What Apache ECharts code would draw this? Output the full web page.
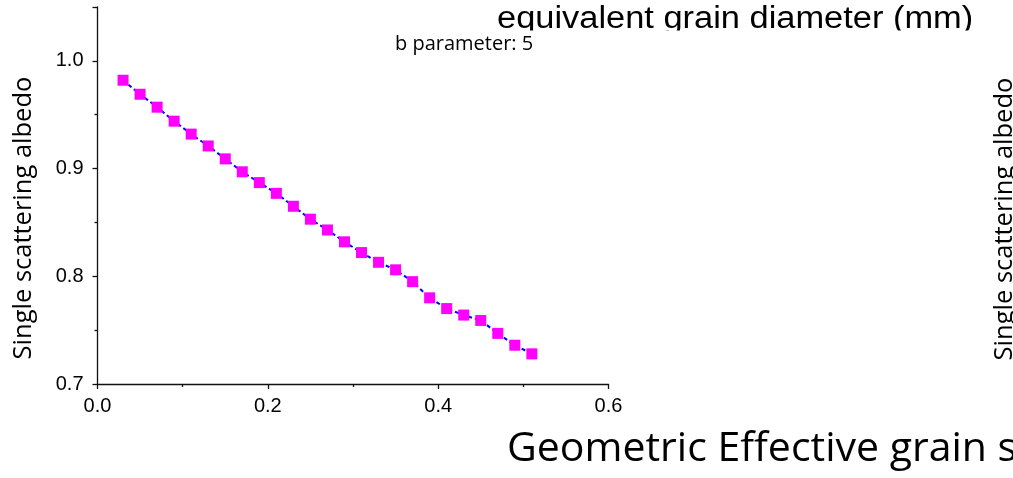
<!DOCTYPE html>
<html>
<head>
<meta charset="utf-8">
<title>Single scattering albedo</title>
<script src="https://cdn.jsdelivr.net/npm/echarts@6/dist/echarts.min.js"></script>
<style>
  html, body { margin: 0; padding: 0; background: #fff; }
  #chart { width: 1013px; height: 478px; }
</style>
</head>
<body>
<div id="chart"></div>
<script>
// grain diameter (mm) and albedo
var grainSize = [0.03, 0.05, 0.07, 0.09, 0.11, 0.13, 0.15, 0.17, 0.19, 0.21,
  0.23, 0.25, 0.27, 0.29, 0.31, 0.33, 0.35, 0.37, 0.39, 0.41,
  0.43, 0.45, 0.47, 0.49, 0.51];
var albedo = [0.982, 0.969, 0.957, 0.944, 0.932, 0.921, 0.909, 0.897, 0.887, 0.877,
  0.865, 0.853, 0.843, 0.832, 0.822, 0.813, 0.806, 0.795, 0.780, 0.770,
  0.764, 0.759, 0.747, 0.736, 0.728];
var xTicks = [0.0, 0.2, 0.4, 0.6];
var yTicks = [0.7, 0.8, 0.9, 1.0];

var titleText = 'equivalent grain diameter (mm)';
var paramText = 'b parameter: 5';
var yName = 'Single scattering albedo';
var bottomText = 'Geometric Effective grain size';

var chart = echarts.init(document.getElementById('chart'));

var points = grainSize.map(function (x, i) { return [x, albedo[i]]; });

var axisText = { color: '#000', fontFamily: 'Liberation Sans', fontSize: 20 };

chart.setOption({
  animation: false,
  backgroundColor: '#fff',
  grid: {
    left: 97.5,
    right: 404.5,
    top: 7,
    bottom: 94,
    outerBoundsMode: 'none'
  },
  xAxis: {
    type: 'value',
    min: 0,
    max: 0.6,
    interval: 0.2,
    axisLine: { lineStyle: { color: '#111', width: 1.3 } },
    axisTick: { length: 5, lineStyle: { color: '#111', width: 1.3 } },
    minorTick: { show: true, splitNumber: 2, length: 3, lineStyle: { color: '#111', width: 1.3 } },
    splitLine: { show: false },
    axisLabel: Object.assign({
      margin: 12,
      formatter: function (v) {
        var hit = xTicks.find(function (t) { return Math.abs(t - v) < 1e-9; });
        return hit === undefined ? '' : hit.toFixed(1);
      }
    }, axisText)
  },
  yAxis: {
    type: 'value',
    min: 0.7,
    max: 1.05,
    interval: 0.1,
    axisLine: { show: true, lineStyle: { color: '#111', width: 1.3 } },
    axisTick: { show: true, length: 5, lineStyle: { color: '#111', width: 1.3 } },
    minorTick: { show: true, splitNumber: 2, length: 3, lineStyle: { color: '#111', width: 1.3 } },
    splitLine: { show: false },
    axisLabel: Object.assign({
      margin: 14,
      formatter: function (v) {
        var hit = yTicks.find(function (t) { return Math.abs(t - v) < 1e-9; });
        return hit === undefined ? '' : hit.toFixed(1);
      }
    }, axisText)
  },
  series: [{
    type: 'line',
    data: points,
    symbol: 'rect',
    symbolSize: 11,
    itemStyle: { color: '#ff00ff' },
    lineStyle: { color: '#0000ff', width: 2, type: [4, 3] }
  }],
  graphic: [
    {
      type: 'text', x: 497, y: 19.5, z: 1,
      scaleX: 1.11,
      style: { text: titleText, fill: '#000', font: '31px "Liberation Sans"', textAlign: 'left', textVerticalAlign: 'middle' }
    },
    {
      // slide crop hides the lower part of the heading
      type: 'rect', z: 2,
      shape: { x: 470, y: 30.5, width: 540, height: 14 },
      style: { fill: '#fff' }
    },
    {
      type: 'text', x: 395, y: 43.9, z: 3,
      style: { text: paramText, fill: '#000', font: '20px "Open Sans"', textAlign: 'left', textVerticalAlign: 'middle' }
    },
    {
      type: 'text', x: 23.5, y: 218, rotation: Math.PI / 2,
      style: { text: yName, fill: '#000', font: '25.5px "Open Sans"', textAlign: 'center', textVerticalAlign: 'middle' }
    },
    {
      type: 'text', x: 1005, y: 219, rotation: Math.PI / 2,
      style: { text: yName, fill: '#000', font: '25.5px "Open Sans"', textAlign: 'center', textVerticalAlign: 'middle' }
    },
    {
      type: 'text', x: 507, y: 449,
      style: { text: bottomText, fill: '#000', font: '41px "Open Sans"', textAlign: 'left', textVerticalAlign: 'middle' }
    }
  ]
});
</script>
</body>
</html>
